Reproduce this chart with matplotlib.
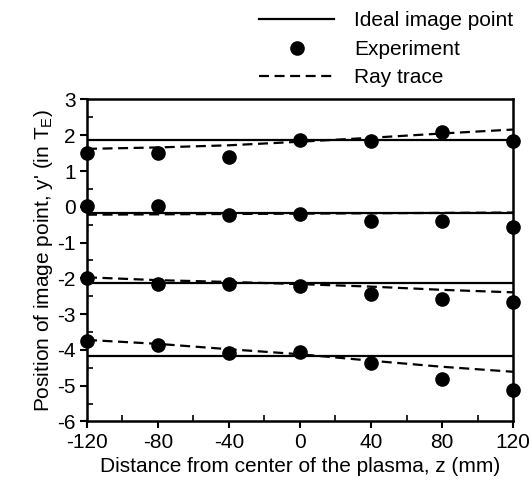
import numpy as np
import matplotlib
matplotlib.use("Agg")
import matplotlib.pyplot as plt
from matplotlib.ticker import MultipleLocator

plt.rcParams['font.family'] = ['Liberation Sans', 'DejaVu Sans']
plt.rcParams['mathtext.fontset'] = 'custom'
plt.rcParams['mathtext.rm'] = 'Liberation Sans'
plt.rcParams['axes.unicode_minus'] = False

# z positions (mm)
z = [-120, -80, -40, 0, 40, 80, 120]

# ideal image point levels for the four object points
ideal = [1.86, -0.17, -2.13, -4.16]

# measured image positions
exp1 = [1.51, 1.50, 1.38, 1.87, 1.83, 2.10, 1.85]
exp2 = [0.01, 0.02, -0.22, -0.20, -0.41, -0.40, -0.57]
exp3 = [-1.98, -2.16, -2.16, -2.20, -2.43, -2.58, -2.66]
exp4 = [-3.74, -3.86, -4.08, -4.07, -4.36, -4.80, -5.12]

# ray trace results
ray1 = [1.62, 1.66, 1.72, 1.82, 1.93, 2.05, 2.16]
ray2 = [-0.22, -0.21, -0.20, -0.19, -0.18, -0.17, -0.16]
ray3 = [-1.97, -2.05, -2.10, -2.16, -2.23, -2.32, -2.39]
ray4 = [-3.72, -3.83, -3.98, -4.12, -4.30, -4.47, -4.61]

exps = [exp1, exp2, exp3, exp4]
rays = [ray1, ray2, ray3, ray4]

fig = plt.figure(figsize=(5.32, 4.87), dpi=100)
ax = fig.add_axes([0.1635, 0.1345, 0.8008, 0.6612])

fs = 15
for k in range(4):
    l1, = ax.plot([z[0], z[-1]], [ideal[k], ideal[k]], color='black', lw=1.6)
    l3, = ax.plot(z, rays[k], color='black', lw=1.6, ls=(0, (4.5, 2.5)))
    l2, = ax.plot(z, exps[k], 'o', color='black', ms=9.5, clip_on=False, zorder=5)

ax.set_xlim(-120, 120)
ax.set_ylim(-6, 3)
ax.xaxis.set_major_locator(MultipleLocator(40))
ax.xaxis.set_minor_locator(MultipleLocator(20))
ax.yaxis.set_major_locator(MultipleLocator(1))
ax.yaxis.set_minor_locator(MultipleLocator(0.5))
ax.tick_params(which='major', direction='out', length=5, width=1.5, labelsize=fs, pad=3)
ax.tick_params(which='minor', direction='in', length=4, width=1.2)
for s in ax.spines.values():
    s.set_linewidth(1.8)

ax.set_xlabel('Distance from center of the plasma, z (mm)', fontsize=fs, labelpad=4)
ax.set_ylabel("Position of image point, y' (in T$_\\mathregular{E}$)", fontsize=fs, labelpad=2)

fig.legend([l1, l2, l3], ['Ideal image point', 'Experiment', 'Ray trace'],
           loc='upper right', bbox_to_anchor=(1.0, 1.015), frameon=False,
           fontsize=fs, handlelength=3.6, handletextpad=0.95, labelspacing=0.45)

fig.savefig('out.png', dpi=100)
